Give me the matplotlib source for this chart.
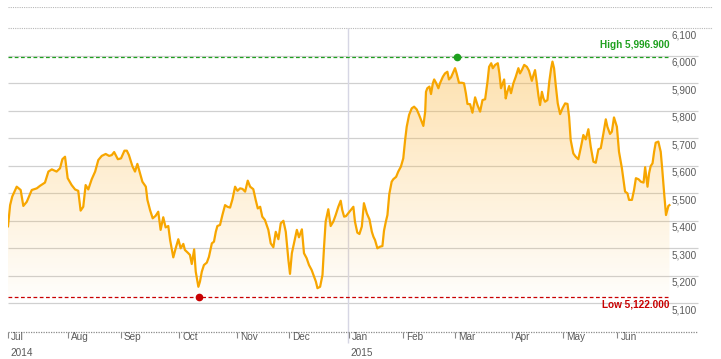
import numpy as np
import matplotlib.pyplot as plt
from matplotlib.transforms import blended_transform_factory

plt.rcParams['font.family'] = ['Liberation Sans', 'DejaVu Sans']

# --- data: trading session index (0 = 1 Jul 2014) and closing level ---
sessions = [
    0, 0.8, 1.6, 3.3, 4.8, 5.8, 7.1, 9.0, 10.9, 12.1, 14.0, 15.3, 16.6, 18.4, 19.7,
    20.6, 21.6, 22.6, 24.1, 25.4, 26.6, 27.5, 28.5, 29.4, 30.4, 31.7, 33.0, 34.2,
    35.5, 37.0, 38.3, 39.3, 40.2, 41.6, 42.8, 44.1, 45.0, 45.8, 47.1, 48.1, 49.0,
    50.0, 50.9, 52.2, 52.8, 53.8, 54.8, 55.9, 56.9, 57.8, 58.8, 59.7, 60.7, 61.4,
    62.6, 63.5, 64.5, 65.4, 66.4, 67.0, 68.1, 68.9, 69.6, 70.5, 71.1, 72.1, 72.7,
    73.4, 74.2, 75.3, 76.1, 77.2, 78.0, 78.7, 79.3, 80.3, 81.2, 82.2, 83.1, 84.1,
    85.0, 86.0, 86.9, 87.9, 88.8, 89.8, 90.8, 91.7, 92.9, 93.8, 94.6, 95.5, 96.3,
    97.3, 98.6, 99.5, 100.5, 101.4, 102.4, 103.3, 104.3, 105.2, 106.2, 106.8,
    107.5, 108.3, 109.4, 110.2, 111.3, 112.1, 113.1, 114.0, 115.0, 115.9, 116.6,
    117.2, 118.2, 119.1, 119.7, 120.3, 121.3, 122.2, 123.2, 124.1, 125.1, 126.0,
    126.6, 127.3, 128.0, 129.3, 130.8, 131.4, 132.3, 133.1, 134.0, 134.8, 135.9,
    136.9, 137.8, 138.4, 139.0, 139.9, 140.9, 141.8, 142.4, 143.1, 143.7, 144.4,
    145.3, 145.9, 147.0, 147.8, 148.8, 149.7, 150.4, 151.0, 151.9, 152.9, 153.8,
    154.8, 155.7, 156.7, 157.3, 158.0, 158.3, 158.8, 159.6, 160.2, 160.9, 161.4,
    162.1, 163.0, 163.6, 164.7, 165.5, 166.4, 167.0, 167.8, 168.7, 169.3, 169.9,
    170.8, 171.9, 172.7, 173.4, 174.0, 175.0, 175.9, 176.9, 177.8, 178.8, 179.7,
    180.7, 181.6, 182.2, 183.0, 183.6, 184.5, 185.5, 186.1, 186.7, 187.4, 187.9,
    188.5, 189.1, 189.8, 190.5, 191.4, 192.3, 193.3, 193.9, 194.6, 195.5, 196.5,
    197.3, 198.4, 199.0, 199.6, 200.3, 200.9, 201.5, 202.2, 202.8, 203.4, 204.3,
    205.0, 205.7, 206.2, 206.8, 207.5, 208.2, 209.1, 210.0, 211.0, 211.9, 212.5,
    213.1, 214.1, 215.0, 216.0, 217.0, 217.9, 218.8, 219.8, 220.7, 221.7, 222.6,
    223.6, 224.5, 225.5, 226.4, 227.0, 228.0, 228.7, 229.5, 230.6, 231.4, 232.5,
    233.1, 233.7, 234.6, 235.2, 236.3, 237.1, 237.8, 238.8, 239.7, 240.7, 241.3,
    242.2, 242.8, 243.4, 244.1, 244.7, 245.3, 246.3, 247.2, 247.8, 248.5, 249.2,
    250.1, 250.5,
]
close = [
    5380, 5457, 5488, 5524, 5512, 5454, 5469, 5512, 5518, 5527, 5539, 5579, 5587, 5579, 5591,
    5624, 5633, 5555, 5530, 5514, 5509, 5437, 5451, 5530, 5514, 5551, 5579, 5621,
    5636, 5643, 5636, 5639, 5650, 5624, 5627, 5655, 5655, 5639, 5599, 5579, 5607,
    5573, 5542, 5524, 5476, 5439, 5409, 5418, 5433, 5367, 5413, 5376, 5381, 5330,
    5267, 5300, 5333, 5300, 5316, 5294, 5284, 5276, 5243, 5296, 5215, 5160, 5179,
    5215, 5239, 5248, 5269, 5318, 5324, 5360, 5381, 5385, 5421, 5457, 5451, 5448,
    5478, 5524, 5509, 5518, 5516, 5506, 5546, 5524, 5515, 5476, 5445, 5451, 5415,
    5403, 5367, 5318, 5304, 5360, 5333, 5391, 5400, 5360, 5257, 5207,
    5282, 5318, 5367, 5340, 5369, 5282, 5264, 5239, 5221, 5197, 5179,
    5155, 5160, 5203, 5306, 5397, 5442, 5381, 5397, 5421, 5451, 5473,
    5439, 5415, 5417, 5433, 5451, 5397, 5357, 5352, 5379, 5464, 5427,
    5405, 5360, 5342, 5330, 5300, 5306, 5308, 5364, 5397, 5421, 5497,
    5542, 5551, 5560, 5579, 5597, 5627, 5694, 5742, 5785, 5809, 5815,
    5805, 5785, 5760, 5745, 5797, 5869, 5882, 5888, 5861, 5900, 5914,
    5902, 5882, 5900, 5924, 5936, 5942, 5914, 5922, 5942, 5955, 5936,
    5902, 5902, 5900, 5864, 5825, 5824, 5793, 5849, 5821, 5797, 5839,
    5842, 5906, 5960, 5973, 5955, 5967, 5973, 5936, 5882, 5900, 5914,
    5845, 5869, 5890, 5864, 5900, 5924, 5955, 5936, 5948, 5967, 5960,
    5946, 5909, 5930, 5948, 5900, 5854, 5821, 5869, 5845, 5833, 5839,
    5906, 5955, 5979, 5955, 5888, 5827, 5788, 5809, 5827, 5825, 5778,
    5694, 5645, 5633, 5624, 5669, 5712, 5696, 5733, 5669, 5615, 5611,
    5660, 5664, 5718, 5769, 5742, 5716, 5724, 5776, 5742, 5651, 5591,
    5548, 5506, 5500, 5476, 5476, 5512, 5555, 5551, 5542, 5539, 5595,
    5524, 5573, 5599, 5609, 5651, 5684, 5688, 5651, 5585, 5500, 5421,
    5454, 5457,
]

high_session, high_value = 169.9, 5996.9
low_session, low_value = 72.3, 5122.0
year_break = 128.8

month_ticks = [0, 22.6, 42.8, 64.8, 86.9, 106.3, 129.1, 149.5, 169.3, 190.8, 210.1, 230.8]
month_labels = ["Jul", "Aug", "Sep", "Oct", "Nov", "Dec", "Jan", "Feb", "Mar", "Apr", "May", "Jun"]
year_labels = [(0, "2014"), (year_break, "2015")]
y_ticks = [5100, 5200, 5300, 5400, 5500, 5600, 5700, 5800, 5900, 6000, 6100]

LINE = "#f7a600"
GRID = "#d0d0d0"
TXT = "#5a5a5a"

# --- figure ---
fig = plt.figure(figsize=(7.21, 3.59), dpi=100)
ax = fig.add_axes([8 / 721, 1 - 331.7 / 359, 705 / 721, 324.4 / 359])
y_lo, y_hi = 4996.7, 6176.4
x_lo, x_hi = 0, 267.0

# gridlines (stop short of the right edge, labels sit underneath)
grid_end = x_lo + (x_hi - x_lo) * 0.979
ax.hlines(y_ticks[:-1], x_lo, grid_end, colors=GRID, linewidth=0.9, zorder=0)
ax.hlines([6100, y_hi - 0.5], x_lo, x_hi, colors="#b8b8b8", linewidth=0.8,
          linestyles=(0, (1, 1)), zorder=0)
ax.hlines(y_lo + 0.5, x_lo, grid_end, colors="#8a8a8a", linewidth=0.9,
          linestyles=(0, (1, 1)), zorder=3, clip_on=False)

# year divider
ax.vlines(year_break, 4955, 6100, colors="#d6d6e4", linewidth=1.0, zorder=0, clip_on=False)

# gradient fill under the curve
poly = ax.fill_between(sessions, close, y_lo, facecolor="none", edgecolor="none")
grad = np.zeros((256, 1, 4))
grad[:, 0, 0] = 0.99
grad[:, 0, 1] = 0.72
grad[:, 0, 2] = 0.25
grad[:, 0, 3] = np.linspace(0.02, 0.42, 256)
top = max(close)
im = ax.imshow(grad, extent=[sessions[0], sessions[-1], 5120, top], aspect="auto",
               origin="lower", zorder=1)
im.set_clip_path(poly.get_paths()[0], transform=ax.transData)

# price line
ax.plot(sessions, close, color=LINE, linewidth=1.6, zorder=4, solid_joinstyle="round")

# high / low reference lines
ax.hlines(high_value, x_lo, sessions[-1], colors="#1ea01e", linewidth=0.9,
          linestyles=(0, (3, 2)), zorder=3)
ax.hlines(low_value, x_lo, sessions[-1], colors="#c80000", linewidth=0.9,
          linestyles=(0, (3, 2)), zorder=3)
ax.plot([high_session], [high_value], "o", color="#1ea01e", markersize=4.5, zorder=5)
ax.plot([low_session], [low_value], "o", color="#c80000", markersize=4.5, zorder=5)
ax.annotate(f"High {high_value:,.3f}", xy=(sessions[-1], high_value), xytext=(0, 4.5),
            textcoords="offset points", ha="right", va="bottom", fontsize=7.2,
            fontweight="bold", color="#1ea01e")
ax.annotate(f"Low {low_value:,.3f}", xy=(sessions[-1], low_value), xytext=(0, -1.5),
            textcoords="offset points", ha="right", va="top", fontsize=7.2,
            fontweight="bold", color="#c80000")

# y labels under each gridline, right aligned
ytrans = blended_transform_factory(ax.transAxes, ax.transData)
for v in y_ticks:
    ax.annotate(f"{v:,}", xy=(0.977, v), xycoords=ytrans, xytext=(0, -5),
                textcoords="offset points", ha="right", va="center",
                fontsize=7.2, color=TXT)

# month ticks + labels, year labels
ax.set_xticks(month_ticks)
ax.set_xticklabels([])
ax.tick_params(axis="x", direction="out", length=4.5, width=0.8, color="#8a8a8a")
ax.set_yticks([])
xtrans = blended_transform_factory(ax.transData, ax.transAxes)
for t, lab in zip(month_ticks, month_labels):
    ax.annotate(lab, xy=(t, 0), xycoords=xtrans, xytext=(2.2, -3.8),
                textcoords="offset points", ha="left", va="center",
                fontsize=7.2, color=TXT)
for t, lab in year_labels:
    ax.annotate(lab, xy=(t, 0), xycoords=xtrans, xytext=(1.5, -15.5),
                textcoords="offset points", ha="left", va="center",
                fontsize=7.2, color=TXT)

for s in ax.spines.values():
    s.set_visible(False)
ax.set_xlim(x_lo, x_hi)
ax.set_ylim(y_lo, y_hi)

fig.savefig("out.png", dpi=100)
